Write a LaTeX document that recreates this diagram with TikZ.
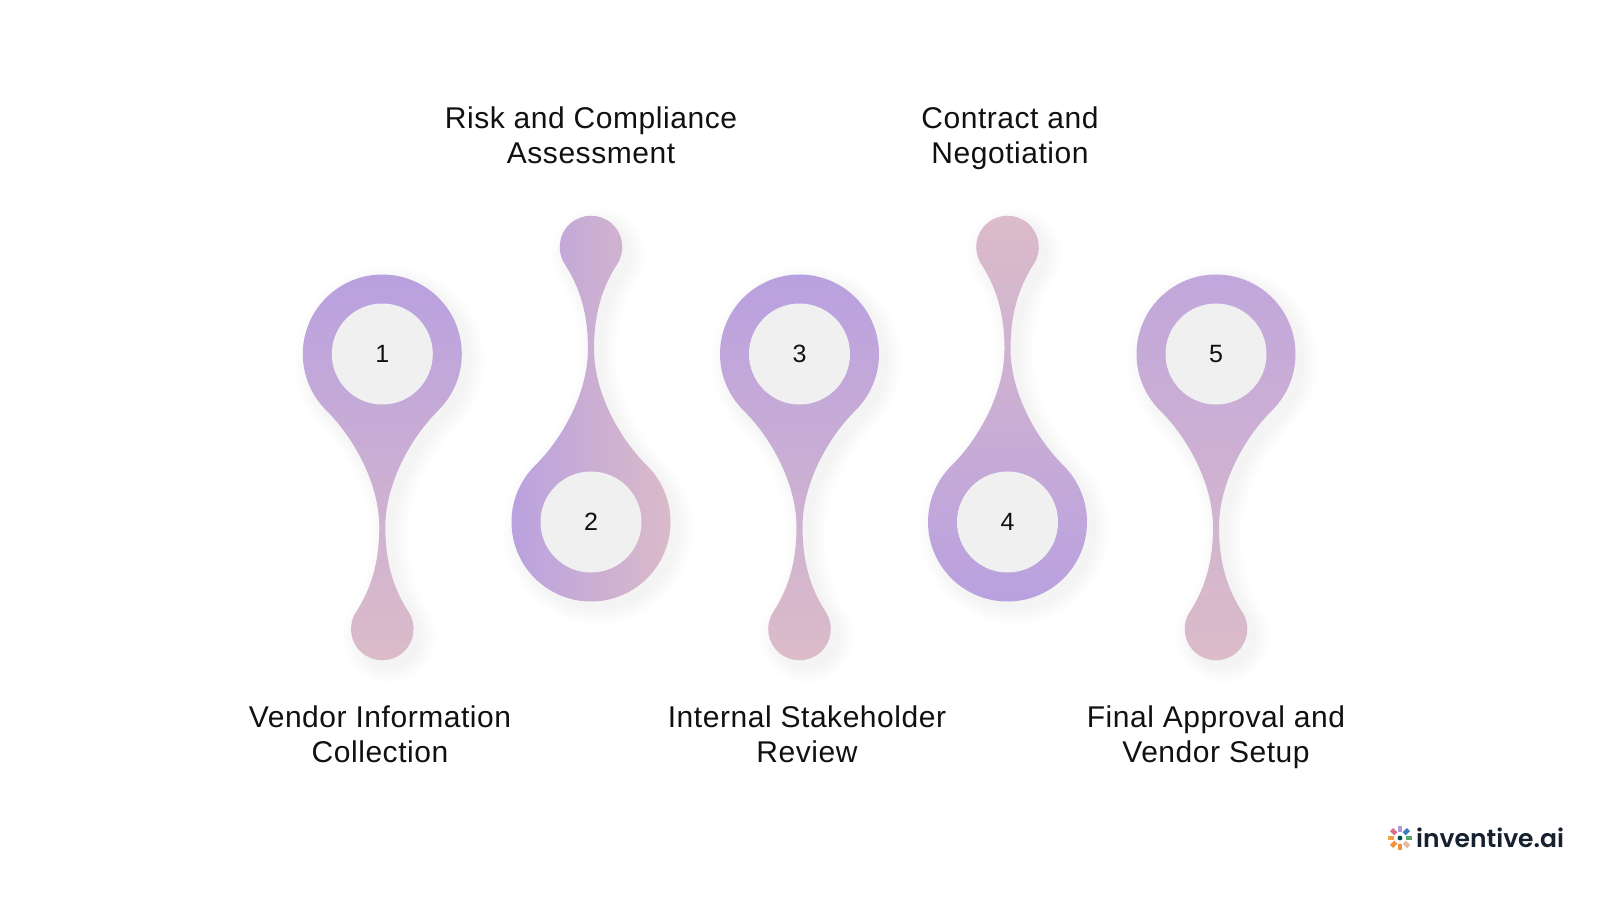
\documentclass[tikz,border=0pt]{standalone}
\usepackage{fontspec}
\setmainfont{Liberation Sans}
\newfontfamily\labelfont[LetterSpace=1.8]{Liberation Sans}
\newfontfamily\logofont{Poppins SemiBold}
\definecolor{lav}{HTML}{B8A0E0}
\definecolor{lavb}{HTML}{C0A6DC}
\definecolor{rose}{HTML}{DCBCC8}
\definecolor{disc}{HTML}{F0F0F0}
\definecolor{ink}{HTML}{111111}
\definecolor{logoink}{HTML}{16202E}
\newcommand{\pinpath}[3]{% cx, cy, sign
 (#1-56.2,#2+#3*56.2)
 .. controls (#1-87.25,#2+#3*25.15) and (#1-87.25,#2-#3*25.15) .. (#1-56.2,#2-#3*56.2)
 .. controls (#1-25.15,#2-#3*87.25) and (#1+25.15,#2-#3*87.25) .. (#1+56.2,#2-#3*56.2)
 .. controls (#1+87.25,#2-#3*25.15) and (#1+87.25,#2+#3*25.15) .. (#1+56.2,#2+#3*56.2)
 .. controls (#1+28,#2+#3*84) and (#1+3,#2+#3*130) .. (#1+3,#2+#3*173)
 .. controls (#1+3,#2+#3*208) and (#1+11,#2+#3*234.5) .. (#1+26.25,#2+#3*257.95)
 .. controls (#1+34.75,#2+#3*271.03) and (#1+32.31,#2+#3*288.39) .. (#1+20.53,#2+#3*298.62)
 .. controls (#1+8.75,#2+#3*308.85) and (#1-8.75,#2+#3*308.85) .. (#1-20.53,#2+#3*298.62)
 .. controls (#1-32.31,#2+#3*288.39) and (#1-34.75,#2+#3*271.03) .. (#1-26.25,#2+#3*257.95)
 .. controls (#1-11,#2+#3*234.5) and (#1-3,#2+#3*208) .. (#1-3,#2+#3*173)
 .. controls (#1-3,#2+#3*130) and (#1-28,#2+#3*84) .. cycle}
\newcommand{\softshadow}[3]{%
 \foreach \w in {2,5,...,32}{
  \begin{scope}[transparency group,opacity=0.005]
  \fill[black,draw=black,line width=\w pt,line join=round] \pinpath{#1+7}{#2+7}{#3};
  \end{scope}
 }}
\tikzset{
 numdisc/.style={circle,fill=disc,minimum size=101pt,inner sep=0pt,text=ink,font=\fontsize{25}{30}\selectfont},
 steplabel/.style={align=center,text=ink,font=\labelfont\fontsize{30}{35}\selectfont},
 petal/.style={line width=4.4pt,line cap=butt},
}
\begin{document}
\begin{tikzpicture}[x=1pt,y=-1pt]
\useasboundingbox (0,0) rectangle (1600,900);
\fill[white] (0,0) rectangle (1600,900);
\softshadow{382.3}{354}{1}
\softshadow{591}{522}{-1}
\softshadow{799.5}{354}{1}
\softshadow{1007.5}{522}{-1}
\softshadow{1216}{354}{1}
\shade[top color=lav,bottom color=rose] \pinpath{382.3}{354}{1};
\shade[left color=lav,right color=rose] \pinpath{591}{522}{-1};
\shade[top color=lav,bottom color=rose] \pinpath{799.5}{354}{1};
\shade[top color=rose,bottom color=lav] \pinpath{1007.5}{522}{-1};
\shade[top color=lavb,bottom color=rose] \pinpath{1216}{354}{1};
\node[numdisc] (n1) at (382.3,354) {1};
\node[numdisc] (n2) at (591,522) {2};
\node[numdisc] (n3) at (799.5,354) {3};
\node[numdisc] (n4) at (1007.5,522) {4};
\node[numdisc] (n5) at (1216,354) {5};
\node[steplabel] (l1) at (380,734) {Vendor Information\\Collection};
\node[steplabel] (l2) at (591,135) {Risk and Compliance\\Assessment};
\node[steplabel] (l3) at (807,734) {Internal Stakeholder\\Review};
\node[steplabel] (l4) at (1010,138) {Contract and\\Negotiation};
\node[steplabel] (l5) at (1216,737) {Final Approval and\\Vendor Setup};
\node[anchor=west,inner sep=0pt,text=logoink,font=\logofont\fontsize{25}{30}\selectfont] (logo) at (1416,838) {inventive.ai};
\foreach \a/\c in {-90/B09AD8,-45/3F7FB8,0/5AA56A,45/E8B8A0,90/F0923A,135/F0923A,180/F0A040,-135/D8708A}{
 \definecolor{pc}{HTML}{\c}
 \draw[petal,pc] (1400,838)++(\a:6) -- ++(\a:6);
}
\fill[black!40!teal] (1400,838) circle (2.4);
\end{tikzpicture}
\end{document}
